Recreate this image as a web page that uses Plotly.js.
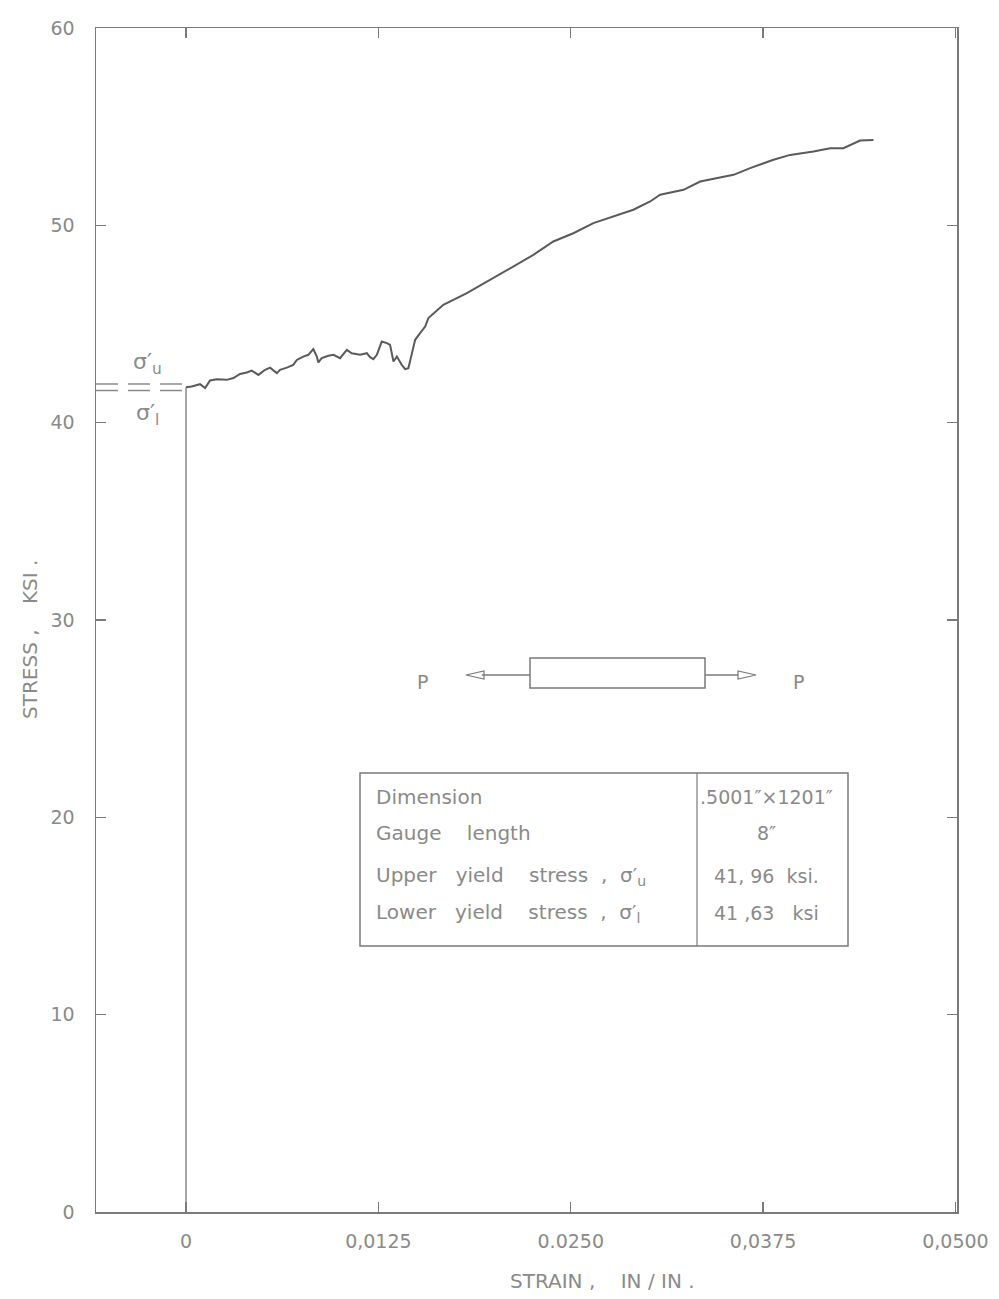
<!DOCTYPE html>
<html>
<head>
<meta charset="utf-8">
<script src="https://cdn.plot.ly/plotly-3.0.1.min.js"></script>
<style>html,body{margin:0;padding:0;background:#fff;}#chart{width:999px;height:1299px;}</style>
</head>
<body>
<div id="chart"></div>
<script>
// ---- data ----
const strain = [0, 0.00037, 0.00091, 0.00124, 0.00156, 0.0020, 0.00265, 0.00308, 0.00351, 0.00395,
  0.00427, 0.0047, 0.00514, 0.00546, 0.0059, 0.00611, 0.00655, 0.00697, 0.0072, 0.00762,
  0.00795, 0.00827, 0.0085, 0.0086, 0.00882, 0.00925, 0.00958, 0.01001, 0.01045, 0.01077,
  0.01131, 0.01175, 0.01196, 0.01217, 0.0124, 0.01272, 0.01305, 0.01326, 0.01348, 0.0137,
  0.01402, 0.01424, 0.01445, 0.01467, 0.01489, 0.01521, 0.01554, 0.01575, 0.01672, 0.01825,
  0.01997, 0.0215, 0.02257, 0.02387, 0.02517, 0.02647, 0.02777, 0.02907, 0.03016, 0.03081,
  0.03233, 0.03341, 0.03558, 0.03666, 0.03817, 0.03926, 0.04077, 0.04186, 0.04272, 0.0438, 0.04467];
const stress = [41.80, 41.83, 41.95, 41.75, 42.14, 42.20, 42.17, 42.26, 42.47, 42.54,
  42.64, 42.42, 42.68, 42.79, 42.51, 42.68, 42.79, 42.93, 43.18, 43.35,
  43.44, 43.73, 43.35, 43.05, 43.27, 43.39, 43.44, 43.27, 43.69, 43.52,
  43.44, 43.52, 43.32, 43.22, 43.44, 44.11, 44.03, 43.94, 43.10, 43.35,
  42.93, 42.71, 42.76, 43.52, 44.20, 44.54, 44.87, 45.30, 45.97, 46.56,
  47.32, 48.0, 48.5, 49.18, 49.6, 50.11, 50.45, 50.79, 51.21, 51.55,
  51.80, 52.22, 52.56, 52.90, 53.32, 53.57, 53.74, 53.91, 53.91, 54.30, 54.33];
const elasticStrain = [0, 0];
const elasticStress = [0, 41.80];
const upperYield = 41.96;
const lowerYield = 41.63;
const xTickVals = [0, 0.0125, 0.025, 0.0375, 0.05];
const xTickText = ["0", "0,0125", "0.0250", "0,0375", "0,0500"];
const yTickVals = [0, 10, 20, 30, 40, 50, 60];
const tableLabels = ["Dimension", "Gauge    length", "Upper   yield    stress  ,  σ′<sub>u</sub>", "Lower   yield    stress  ,  σ′<sub>l</sub>"];
const tableValues = [".5001″×1201″", "8″", "41, 96  ksi.", "41 ,63   ksi"];

// ---- layout helpers ----
const XMIN = -0.00585, XMAX = 0.0501;
const W = 999, H = 1299, ML = 96, MR = 42, MT = 28, MB = 87;
const PW = W - ML - MR, PH = H - MT - MB;
const px = v => (v - ML) / PW;          // pixel -> paper x
const py = v => (H - MB - v) / PH;      // pixel -> paper y
const gray = '#7a7a7a';
const txtGray = '#8a8a8a';
const fam = 'DejaVu Sans, Liberation Sans, sans-serif';
const f = (size) => ({family: fam, color: txtGray, size: size});

const traces = [
  {x: elasticStrain, y: elasticStress, mode: 'lines', line: {color: '#8a8a8a', width: 1.5}, hoverinfo: 'skip'},
  {x: [XMIN, 0], y: [upperYield, upperYield], mode: 'lines', line: {color: '#8a8a8a', width: 1.5, dash: '22px,10px'}, hoverinfo: 'skip'},
  {x: [XMIN, 0], y: [lowerYield, lowerYield], mode: 'lines', line: {color: '#8a8a8a', width: 1.5, dash: '22px,10px'}, hoverinfo: 'skip'},
  {x: strain, y: stress, mode: 'lines', line: {color: '#5a5a5a', width: 2}, hoverinfo: 'skip'}
];

const pp = (x, y) => px(x).toFixed(5) + ',' + py(y).toFixed(5);
const shapes = [
  // specimen bar
  {type: 'rect', xref: 'paper', yref: 'paper', x0: px(530), x1: px(705), y0: py(688), y1: py(658),
   line: {color: gray, width: 1.5}},
  // arrows
  {type: 'line', xref: 'paper', yref: 'paper', x0: px(482), x1: px(530), y0: py(675), y1: py(675), line: {color: gray, width: 1.3}},
  {type: 'path', xref: 'paper', yref: 'paper', path: 'M' + pp(466, 675) + ' L' + pp(484, 671) + ' L' + pp(484, 679) + ' Z',
   line: {color: gray, width: 1.2}},
  {type: 'line', xref: 'paper', yref: 'paper', x0: px(705), x1: px(738), y0: py(675), y1: py(675), line: {color: gray, width: 1.3}},
  {type: 'path', xref: 'paper', yref: 'paper', path: 'M' + pp(756, 675) + ' L' + pp(738, 671) + ' L' + pp(738, 679) + ' Z',
   line: {color: gray, width: 1.2}},
  // table
  {type: 'rect', xref: 'paper', yref: 'paper', x0: px(360), x1: px(848), y0: py(946), y1: py(773),
   line: {color: gray, width: 1.5}},
  {type: 'line', xref: 'paper', yref: 'paper', x0: px(697), x1: px(697), y0: py(946), y1: py(773),
   line: {color: gray, width: 1.2}}
];

const A = (o) => Object.assign({xref: 'paper', yref: 'paper', showarrow: false, xanchor: 'center', yanchor: 'middle'}, o);
const annotations = [
  A({x: px(422), y: py(682), text: 'P', font: f(19)}),
  A({x: px(798), y: py(682), text: 'P', font: f(19)}),
  A({xref: 'x', yref: 'y', x: -0.0025, y: 43.0, text: 'σ′<sub>u</sub>', font: f(22)}),
  A({xref: 'x', yref: 'y', x: -0.0025, y: 40.4, text: 'σ′<sub>l</sub>', font: f(22)}),
  A({x: px(602), y: py(1281), text: 'STRAIN ,    IN / IN .', font: f(20)}),
  A({x: px(30), y: py(640), text: 'STRESS ,    KSI .', textangle: -90, font: f(20)})
];
const rowY = [797, 833, 876, 913];
tableLabels.forEach((t, i) => {
  annotations.push(A({x: px(374), y: py(rowY[i]), xanchor: 'left', text: t, font: f(20)}));
  annotations.push(A({x: px(766), y: py(rowY[i]), text: tableValues[i], font: f(19)}));
});

const axisCommon = {
  showgrid: false, zeroline: false, showline: true, linecolor: gray, linewidth: 1.5,
  mirror: 'ticks', ticks: 'inside', ticklen: 10, tickcolor: gray, tickwidth: 1.3,
  tickfont: f(19)
};

const layout = {
  width: W, height: H, margin: {l: ML, r: MR, t: MT, b: MB},
  paper_bgcolor: '#fff', plot_bgcolor: '#fff', showlegend: false,
  xaxis: Object.assign({}, axisCommon, {range: [XMIN, XMAX], tickvals: xTickVals, ticktext: xTickText, ticklabelstandoff: 12}),
  yaxis: Object.assign({}, axisCommon, {range: [0, 60], tickvals: yTickVals, ticklabelstandoff: 16}),
  shapes: shapes, annotations: annotations
};

Plotly.newPlot('chart', traces, layout, {staticPlot: true, displayModeBar: false});
</script>
</body>
</html>
